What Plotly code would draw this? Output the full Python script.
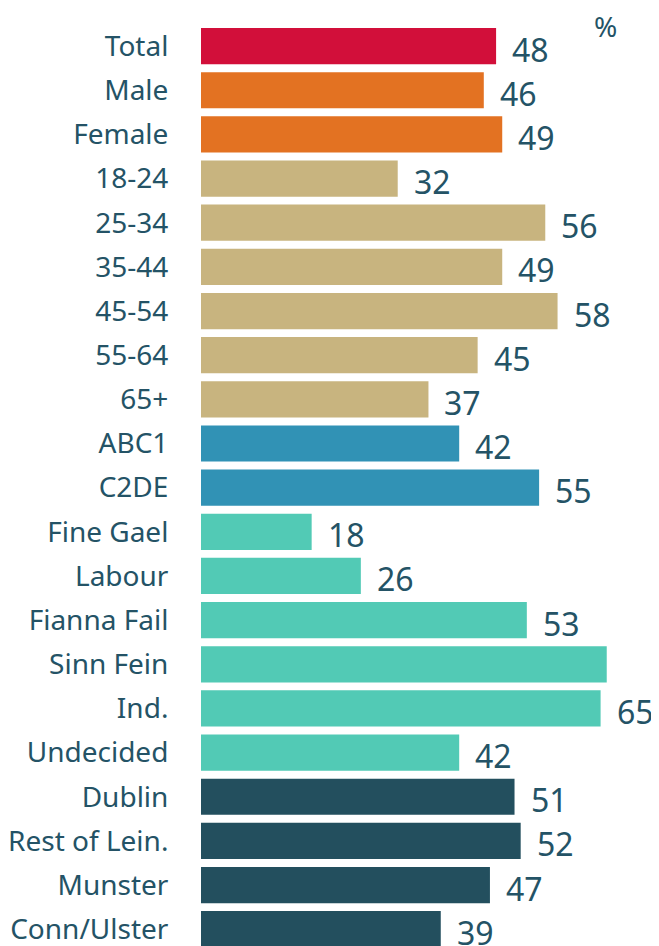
import plotly.graph_objects as go

categories = ["Total", "Male", "Female", "18-24", "25-34", "35-44", "45-54", "55-64", "65+",
              "ABC1", "C2DE", "Fine Gael", "Labour", "Fianna Fail", "Sinn Fein", "Ind.",
              "Undecided", "Dublin", "Rest of Lein.", "Munster", "Conn/Ulster"]
values = [48, 46, 49, 32, 56, 49, 58, 45, 37, 42, 55, 18, 26, 53, 66, 65, 42, 51, 52, 47, 39]
groups = ["total", "gender", "gender", "age", "age", "age", "age", "age", "age",
          "class", "class", "party", "party", "party", "party", "party", "party",
          "region", "region", "region", "region"]
group_colors = {"total": "#D20F3A", "gender": "#E37222", "age": "#C8B47F",
                "class": "#3192B5", "party": "#52CAB5", "region": "#234F5E"}
show_label = [c != "Sinn Fein" for c in categories]

colors = [group_colors[g] for g in groups]

# page body has an 8px margin, so the figure is sized 8px smaller in each direction
W, H = 651, 938
L, T = 193, 16
PW, PH = W - L, H - T

fig = go.Figure()
fig.add_trace(go.Bar(
    x=values, y=categories, orientation="h",
    marker=dict(color=colors, line=dict(width=0)),
    hoverinfo="x+y",
))

annotations = []
for c, v, s in zip(categories, values, show_label):
    if not s:
        continue
    annotations.append(dict(
        x=v, y=c, xref="x", yref="y", text=str(v), showarrow=False,
        xanchor="left", yanchor="middle", xshift=14, yshift=-3,
        font=dict(size=32, color="#245366", family="Noto Sans"),
    ))
annotations.append(dict(text="%", xref="paper", yref="paper",
                        x=(597 - L) / PW, y=(H - 18) / PH,
                        xanchor="center", yanchor="middle",
                        showarrow=False, font=dict(size=28, color="#245366", family="Noto Sans")))

fig.update_layout(
    width=W, height=H,
    margin=dict(l=L, r=0, t=T, b=0, autoexpand=False),
    paper_bgcolor="white", plot_bgcolor="white",
    bargap=0.18, showlegend=False,
    font=dict(family="Noto Sans", color="#245366"),
    xaxis=dict(range=[0, 74.5], visible=False, automargin=False),
    yaxis=dict(range=[20.38, -0.5], autorange=False, automargin=False,
               tickfont=dict(size=28, color="#245366", family="Noto Sans"),
               ticks="outside", ticklen=26, tickcolor="rgba(0,0,0,0)",
               showline=False, showgrid=False),
    annotations=annotations,
)
fig.write_html("out.html")
